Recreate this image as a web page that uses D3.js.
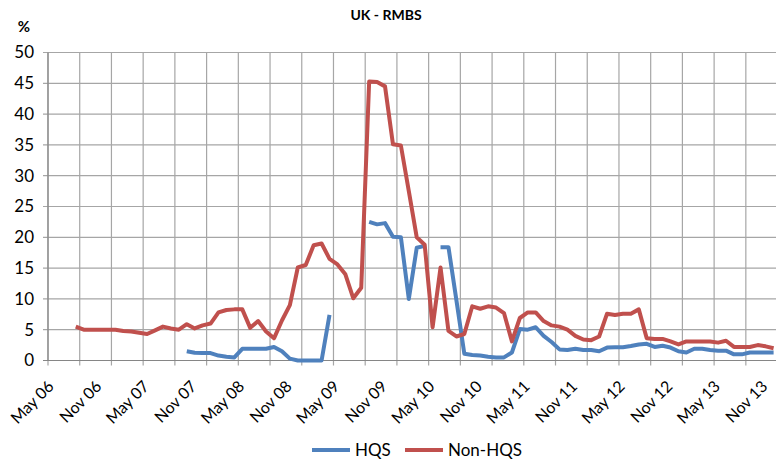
<!DOCTYPE html>
<html>
<head>
<meta charset="utf-8">
<script src="https://cdn.jsdelivr.net/npm/d3@7"></script>
<style>
  body { margin: 0; background: #fff; }
  text { font-family: Lato, "Open Sans", sans-serif; fill: #000; }
</style>
</head>
<body>
<div id="draw_here"></div>
<script type="text/javascript">
    // monthly categories May 06 .. Dec 13
    months = d3.timeMonths(new Date(2006, 4, 1), new Date(2014, 0, 1))

    // Non-HQS, starts Aug 06
    nonhqs = [null, null, null,
        5.5, 5.0, 5.0, 5.0, 5.0, 5.0, 4.8, 4.7, 4.5,
        4.3, 4.9, 5.5, 5.2, 5.0, 5.9, 5.2, 5.7, 6.0, 7.8, 8.2, 8.3,
        8.3, 5.3, 6.4, 4.7, 3.6, 6.5, 9.0, 15.1, 15.5, 18.7, 19.0, 16.5,
        15.6, 14.0, 10.1, 11.8, 45.3, 45.2, 44.5, 35.1, 34.9, 27.5, 20.0, 18.8,
        5.4, 15.1, 4.8, 3.9, 4.3, 8.8, 8.4, 8.8, 8.6, 7.7, 3.1, 6.9,
        7.8, 7.8, 6.4, 5.7, 5.5, 5.0, 4.0, 3.4, 3.3, 3.9, 7.6, 7.4,
        7.6, 7.6, 8.3, 3.6, 3.5, 3.5, 3.1, 2.6, 3.1, 3.1, 3.1, 3.1,
        2.9, 3.2, 2.2, 2.2, 2.2, 2.5, 2.3, 2.0]

    // HQS, starts Oct 07, gaps left empty
    hqs = [null, null, null, null, null, null, null, null, null, null, null, null,
        null, null, null, null, null, 1.5, 1.25, 1.2, 1.2, 0.8, 0.6, 0.5,
        1.9, 1.9, 1.9, 1.9, 2.2, 1.5, 0.3, 0.0, 0.0, 0.0, 0.0, 7.4,
        null, null, null, null, 22.5, 22.1, 22.3, 20.1, 20.0, 10.0, 18.3, 18.6,
        null, 18.4, 18.4, 9.8, 1.1, 0.9, 0.8, 0.6, 0.5, 0.5, 1.3, 5.1,
        5.0, 5.4, 4.0, 3.0, 1.8, 1.7, 1.9, 1.7, 1.7, 1.5, 2.1, 2.15,
        2.15, 2.35, 2.6, 2.7, 2.2, 2.4, 2.1, 1.5, 1.3, 1.9, 1.9, 1.7,
        1.6, 1.6, 1.0, 1.0, 1.3, 1.3, 1.3, 1.3]

    yTicks = [0, 5, 10, 15, 20, 25, 30, 35, 40, 45, 50]
    seriesNames = ["HQS", "Non-HQS"]
    seriesColors = ["#4f81bd", "#c0504d"]

    canvas = ({width: 776, height: 465})
    margin = ({top: 52.5, left: 48, bottom: 360.5})
    step = 7.93

    x = d3.scaleBand()
        .domain(months)
        .range([margin.left, margin.left + months.length * step])

    y = d3.scaleLinear()
        .domain([0, 50])
        .range([margin.bottom, margin.top])

    svg = d3.select("div#draw_here").append("svg")
        .attr("width", canvas.width)
        .attr("height", canvas.height)

    // gridlines
    gridIdx = d3.range(0, months.length, 4)
    svg.append("g").selectAll("line.v")
        .data(gridIdx)
        .join("line")
        .attr("x1", i => x(months[i]))
        .attr("x2", i => x(months[i]))
        .attr("y1", y(50))
        .attr("y2", y(0) + 5)
        .attr("stroke", "#a6a6a6")
        .attr("stroke-width", 1.2)

    svg.append("g").selectAll("line.h")
        .data(yTicks)
        .join("line")
        .attr("x1", margin.left - 5)
        .attr("x2", canvas.width + 10)
        .attr("y1", d => y(d))
        .attr("y2", d => y(d))
        .attr("stroke", d => d == 0 ? "#868686" : "#a6a6a6")
        .attr("stroke-width", 1.2)

    svg.append("line")
        .attr("x1", margin.left).attr("x2", margin.left)
        .attr("y1", y(50)).attr("y2", y(0))
        .attr("stroke", "#868686")
        .attr("stroke-width", 1.2)

    // y labels
    svg.append("g").selectAll("text")
        .data(yTicks)
        .join("text")
        .attr("x", 34)
        .attr("y", d => y(d))
        .attr("dy", "0.35em")
        .attr("text-anchor", "end")
        .style("font-size", "17px")
        .text(d => d)

    // x labels, every 6 months
    labelIdx = d3.range(0, months.length, 6)
    fmt = d3.timeFormat("%b %y")
    svg.append("g").selectAll("text")
        .data(labelIdx)
        .join("text")
        .attr("transform", i => `translate(${x(months[i]) + x.bandwidth() / 2 - 1},${y(0) + 23}) rotate(-45)`)
        .attr("text-anchor", "end")
        .attr("dy", "0.35em")
        .style("font-size", "16px")
        .text(i => fmt(months[i]))

    // lines
    line = d3.line()
        .defined(d => d[1] != null)
        .x(d => x(d[0]) + x.bandwidth() / 2)
        .y(d => y(d[1]))

    ;[hqs, nonhqs].forEach((vals, k) => {
        svg.append("path")
            .attr("fill", "none")
            .attr("stroke", seriesColors[k])
            .attr("stroke-width", 4)
            .attr("stroke-linejoin", "round")
            .attr("d", line(months.map((m, i) => [m, vals[i]])))
    })

    // title and unit
    svg.append("text")
        .attr("x", 386).attr("y", 20)
        .attr("text-anchor", "middle")
        .style("font-size", "14px")
        .style("font-weight", "bold")
        .text("UK - RMBS")

    svg.append("text")
        .attr("x", 24).attr("y", 32)
        .attr("text-anchor", "middle")
        .style("font-size", "15px")
        .style("font-weight", "bold")
        .text("%")

    // legend
    legendX = [312, 405]
    seriesNames.forEach((name, k) => {
        svg.append("line")
            .attr("x1", legendX[k]).attr("x2", legendX[k] + 38)
            .attr("y1", 450).attr("y2", 450)
            .attr("stroke", seriesColors[k])
            .attr("stroke-width", 4)
        svg.append("text")
            .attr("x", legendX[k] + 43).attr("y", 450)
            .attr("dy", "0.35em")
            .style("font-size", "17px")
            .text(name)
    })
</script>
</body>
</html>
